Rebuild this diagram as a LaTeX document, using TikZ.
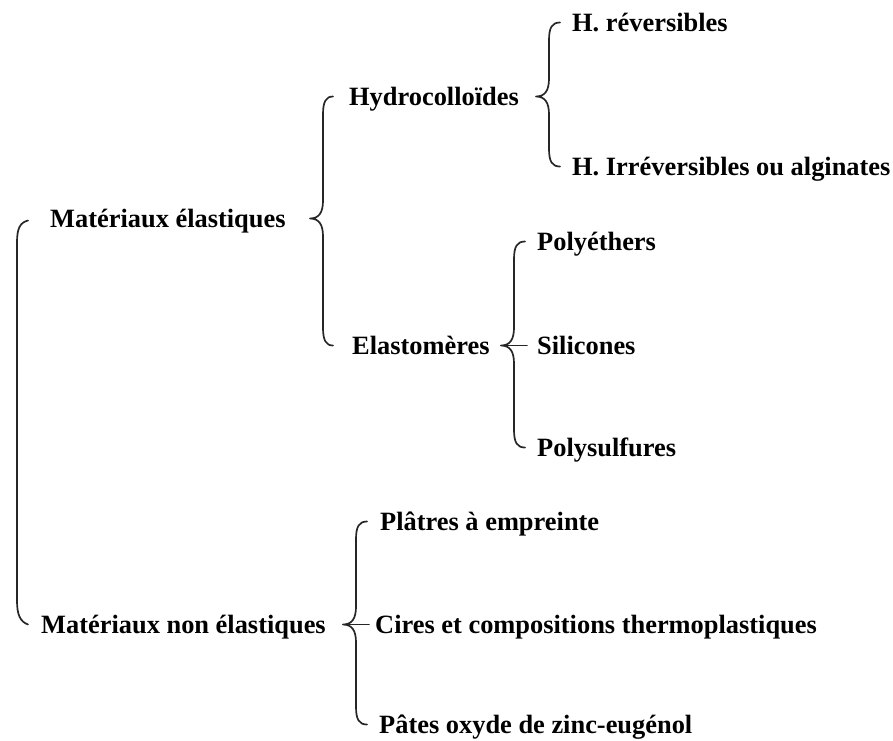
\documentclass[tikz,border=0pt]{standalone}
\usepackage{fontspec}
\setmainfont{Liberation Serif}
\usetikzlibrary{calc}
\tikzset{
  lbl/.style={anchor=base west, inner sep=0pt, text height=20pt, text depth=3pt,
              font=\bfseries\fontsize{26.4}{30}\selectfont},
  brc/.style={draw=black!85, line width=1.7pt, line cap=round, line join=round}
}
% three-way brace: #1 = x of vertical line, #2 top child, #3 parent, #4 bottom child
\newcommand\brcthree[4]{%
  \path[brc] let \p1=(#2.west), \p2=(#3.east), \p3=(#4.west) in
    (#1+11pt,\y1) .. controls (#1+3pt,\y1) and (#1,\y1-5pt) .. (#1,\y1-18pt)
    -- (#1,\y2+18pt) .. controls (#1,\y2+6pt) and (#1-4pt,\y2) .. (#1-13pt,\y2)
    .. controls (#1-4pt,\y2) and (#1,\y2-6pt) .. (#1,\y2-18pt)
    -- (#1,\y3+18pt) .. controls (#1,\y3+5pt) and (#1+3pt,\y3) .. (#1+11pt,\y3);
}
% horizontal stub from brace tip to middle child: #1 = x of tip, #2 parent, #3 middle child, #4 gap
\newcommand\stub[4]{%
  \path[brc] let \p1=(#2.east), \p2=(#3.west) in (#1,\y1) -- (\x2-#4,\y1);
}
\begin{document}
\begin{tikzpicture}[x=1pt,y=1pt]
\useasboundingbox (0,0) rectangle (893,-740);
% nodes
\node[lbl] (me) at (50,-227) {Matériaux élastiques};
\node[lbl] (hy) at (349,-105) {Hydrocolloïdes};
\node[lbl] (hr) at (572,-31) {H. réversibles};
\node[lbl] (hi) at (572,-175) {H. Irréversibles ou alginates};
\node[lbl] (el) at (352,-354) {Elastomères};
\node[lbl] (pe) at (537,-250) {Polyéthers};
\node[lbl] (si) at (537,-354) {Silicones};
\node[lbl] (ps) at (537,-456) {Polysulfures};
\node[lbl] (mn) at (41,-633) {Matériaux non élastiques};
\node[lbl] (pl) at (380,-530) {Plâtres à empreinte};
\node[lbl] (ci) at (375,-633) {Cires et compositions thermoplastiques};
\node[lbl] (pa) at (379,-733) {Pâtes oxyde de zinc-eugénol};
% outer bracket
\path[brc] let \p1=(me.west), \p2=(mn.west) in
  (28pt,\y1-2pt) .. controls (20pt,\y1-4pt) and (17pt,\y1-10pt) .. (17pt,\y1-24pt)
  -- (17pt,\y2+24pt) .. controls (17pt,\y2+10pt) and (20pt,\y2+3pt) .. (28pt,\y2);
% braces
\path[brc] let \p1=(hy.west), \p2=(me.east), \p3=(el.west) in
    (333pt,\y1) .. controls (326pt,\y1) and (323pt,\y1-5pt) .. (323pt,\y1-18pt)
    -- (323pt,\y2+18pt) .. controls (323pt,\y2+6pt) and (319pt,\y2) .. (310pt,\y2)
    .. controls (319pt,\y2) and (323pt,\y2-6pt) .. (323pt,\y2-18pt)
    -- (323pt,\y3+18pt) .. controls (323pt,\y3+5pt) and (326pt,\y3) .. (333pt,\y3);
\brcthree{549pt}{hr}{hy}{hi}
\brcthree{514pt}{pe}{el}{ps}
\brcthree{356pt}{pl}{mn}{pa}
\stub{501pt}{el}{si}{10pt}
\stub{343pt}{mn}{ci}{6pt}
\end{tikzpicture}
\end{document}
